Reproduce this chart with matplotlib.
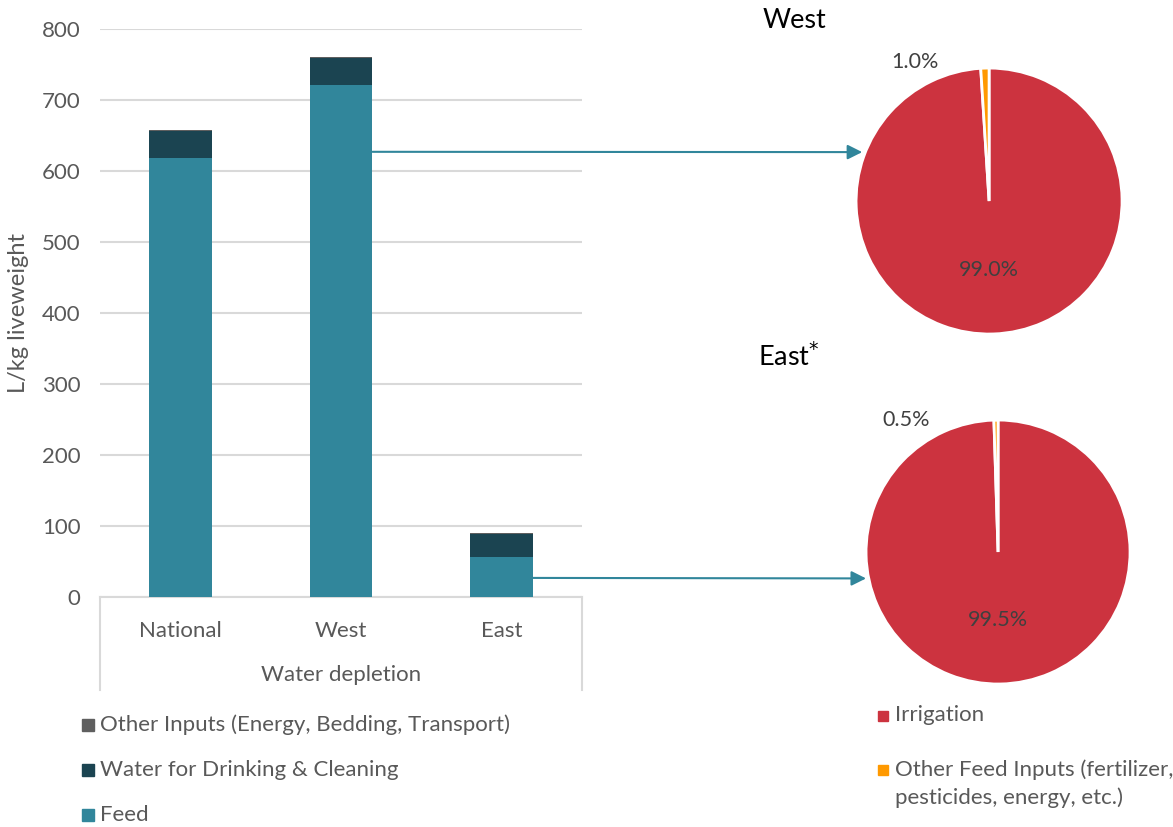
import matplotlib
matplotlib.use("Agg")
import matplotlib.pyplot as plt
from matplotlib.patches import Rectangle, ConnectionPatch
from matplotlib.lines import Line2D

# bar chart data (L/kg liveweight)
regions = ["National", "West", "East"]
feed = [618, 721, 56]
drinking = [38, 38, 33]
other_inputs = [1.5, 1.5, 0.8]
bar_labels = ["Other Inputs (Energy, Bedding, Transport)",
              "Water for Drinking & Cleaning", "Feed"]

# pie data (% of feed water)
pie_labels = ["Irrigation", "Other Feed Inputs (fertilizer,\npesticides, energy, etc.)"]
west_share = [99.0, 1.0]
east_share = [99.5, 0.5]

c_feed = "#31869B"
c_drink = "#1B4451"
c_other = "#5F5F5F"
c_irr = "#CC333F"
c_ofi = "#FF9900"
txt = "#595959"

plt.rcParams["font.family"] = ["Lato", "DejaVu Sans"]
plt.rcParams["font.size"] = 16

fig = plt.figure(figsize=(11.73, 8.27), dpi=100)

# ---- stacked bars
ax = fig.add_axes([0.0853, 0.278, 0.411, 0.687])
x = range(len(regions))
w = 0.39
ax.bar(x, feed, w, color=c_feed, zorder=3)
ax.bar(x, drinking, w, bottom=feed, color=c_drink, zorder=3)
tops = [f + d for f, d in zip(feed, drinking)]
ax.bar(x, other_inputs, w, bottom=tops, color=c_other, zorder=3)
ax.set_xlim(-0.5, 2.5)
ax.set_ylim(0, 800)
ax.set_yticks(range(0, 801, 100))
ax.grid(axis="y", color="#D9D9D9", linewidth=1.5, zorder=0)
for s in ["top", "right", "left"]:
    ax.spines[s].set_visible(False)
ax.spines["bottom"].set_color("#D9D9D9")
ax.spines["bottom"].set_linewidth(1.5)
ax.tick_params(length=0, colors=txt, labelsize=16)
ax.tick_params(axis="x", pad=17)
ax.tick_params(axis="y", pad=14)
ax.set_xticks(list(x))
ax.set_xticklabels(regions)
ax.set_ylabel("L/kg liveweight", color=txt, fontsize=17)
ax.yaxis.set_label_coords(-0.148, 0.5)
ax.text(0.5, -0.138, "Water depletion", transform=ax.transAxes, ha="center",
        va="center", color=txt, fontsize=16)
for xa in (0, 1):
    ax.add_line(Line2D([xa, xa], [0, -0.164], transform=ax.transAxes,
                       color="#D9D9D9", lw=1.5, clip_on=False))

# left legend
for i, (lab, col) in enumerate(zip(bar_labels, [c_other, c_drink, c_feed])):
    yy = 1 - (725 + 45 * i) / 827
    fig.add_artist(Rectangle((82 / 1173, yy - 6 / 827), 12 / 1173, 12 / 827,
                             color=col, transform=fig.transFigure))
    fig.text(100 / 1173, yy, lab, color=txt, fontsize=16, va="center")

# ---- pies
def draw_pie(rect, vals, out_pos, in_pos):
    pa = fig.add_axes(rect)
    pa.pie(vals, colors=[c_irr, c_ofi], startangle=90, counterclock=False,
           wedgeprops=dict(edgecolor="white", linewidth=2))
    pa.set_xlim(-1, 1)
    pa.set_ylim(-1, 1)
    tot = sum(vals)
    pa.text(in_pos[0], in_pos[1], f"{vals[0] / tot * 100:.1f}%", ha="center",
            va="center", color="#404040", fontsize=15.5)
    pa.text(out_pos[0], out_pos[1], f"{vals[1] / tot * 100:.1f}%", ha="center",
            va="center", color="#404040", fontsize=15.5)
    return pa

pw = draw_pie([0.7298, 0.5961, 0.2268, 0.3216], west_share,
              (-0.56, 1.045), (0, -0.52))
pe = draw_pie([0.7383, 0.1729, 0.2251, 0.3192], east_share,
              (-0.70, 1.0), (0, -0.515))
fig.text(794 / 1173, 1 - 20 / 827, "West", ha="center", va="center", fontsize=19.5)
fig.text(789 / 1173, 1 - 357 / 827, r"East$^{*}$", ha="center", va="center", fontsize=19.5)

# arrows from bars to pies
for pa, idx, yv, end in [(pw, 1, 627, (0.023, 0.684)), (pe, 2, 27, (0.0, 0.40))]:
    con = ConnectionPatch(xyA=(idx + w / 2, yv), coordsA=ax.transData,
                          xyB=end, coordsB=pa.transAxes,
                          arrowstyle="-|>", mutation_scale=22,
                          color=c_feed, lw=1.5)
    fig.add_artist(con)

# right legend
for i, (lab, col) in enumerate(zip(pie_labels, [c_irr, c_ofi])):
    yy = 1 - (716 + 54 * i) / 827
    fig.add_artist(Rectangle((878 / 1173, yy - 5 / 827), 10 / 1173, 10 / 827,
                             color=col, transform=fig.transFigure))
    fig.text(895 / 1173, yy + 11 / 827, lab, color=txt, fontsize=16, va="top",
             linespacing=1.45)

fig.savefig("out.png", dpi=100)
